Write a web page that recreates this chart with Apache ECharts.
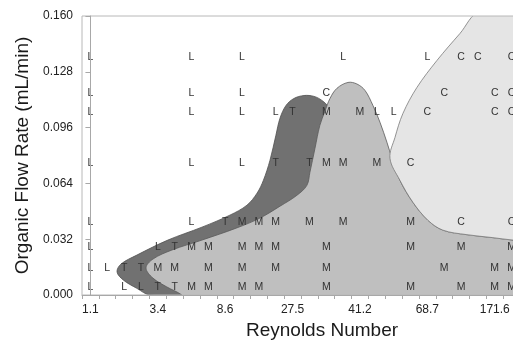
<!DOCTYPE html>
<html>
<head>
<meta charset="utf-8">
<script src="https://cdn.jsdelivr.net/npm/echarts@6/dist/echarts.min.js"></script>
<style>
  html, body { margin: 0; padding: 0; background: #fff; }
  #chart { width: 513px; height: 341px; }
</style>
</head>
<body>
<div id="chart"></div>
<script>
// Reynolds number columns (only every 4th one is labelled on the axis)
const columnCount = 26;
const xTickLabels = ["1.1", "3.4", "8.6", "27.5", "41.2", "68.7", "171.6"];

// observed regimes: [column, organic flow rate (mL/min)]
const laminar = [
  [0, 0.1365], [6, 0.1365], [9, 0.1365], [15, 0.1365], [20, 0.1365],
  [0, 0.1158], [6, 0.1158], [9, 0.1158],
  [0, 0.1047], [6, 0.1047], [9, 0.1047], [11, 0.1047], [17, 0.1047], [18, 0.1047],
  [0, 0.0757], [6, 0.0757], [9, 0.0757],
  [0, 0.0419], [6, 0.0419],
  [0, 0.0276], [4, 0.0276],
  [0, 0.0156], [1, 0.0156],
  [0, 0.0044], [2, 0.0044], [3, 0.0044]
];
const transition = [
  [12, 0.1047], [11, 0.0757], [13, 0.0757], [8, 0.0419], [5, 0.0276],
  [2, 0.0156], [3, 0.0156], [4, 0.0044], [5, 0.0044]
];
const mixing = [
  [14, 0.1047], [16, 0.1047],
  [14, 0.0757], [15, 0.0757], [17, 0.0757],
  [9, 0.0419], [10, 0.0419], [11, 0.0419], [13, 0.0419], [15, 0.0419], [19, 0.0419],
  [6, 0.0276], [7, 0.0276], [9, 0.0276], [10, 0.0276], [11, 0.0276], [14, 0.0276], [19, 0.0276], [22, 0.0276], [25, 0.0276],
  [4, 0.0156], [5, 0.0156], [7, 0.0156], [9, 0.0156], [11, 0.0156], [14, 0.0156], [21, 0.0156], [24, 0.0156], [25, 0.0156],
  [6, 0.0044], [7, 0.0044], [9, 0.0044], [10, 0.0044], [14, 0.0044], [19, 0.0044], [22, 0.0044], [24, 0.0044], [25, 0.0044]
];
const chaotic = [
  [22, 0.1365], [23, 0.1365], [25, 0.1365],
  [14, 0.1158], [21, 0.1158], [24, 0.1158], [25, 0.1158],
  [20, 0.1047], [24, 0.1047], [25, 0.1047],
  [19, 0.0757], [22, 0.0419], [25, 0.0419]
];

// regime boundaries: [column, flow rate]
const transitionZone = [
  [3.54, 0], [2.76, 0.0038], [1.95, 0.0086], [1.58, 0.0132], [1.81, 0.0177], [2.76, 0.0229],
  [4.60, 0.0315], [6.62, 0.0389], [8.28, 0.0458], [9.29, 0.0515], [9.89, 0.0584], [10.27, 0.0658],
  [10.66, 0.0773], [11.01, 0.0916], [11.25, 0.1013], [11.61, 0.1087], [12.08, 0.1127], [12.68, 0.1144],
  [13.27, 0.1139], [13.74, 0.1116], [14.10, 0.1082], [14.51, 0.1001], [14.22, 0.0544], [12.44, 0.0315],
  [6.50, 0]
];
const mixingZone = [
  [5.43, 0], [4.54, 0.0046], [3.71, 0.0097], [3.30, 0.0155], [3.71, 0.0206], [4.84, 0.0258],
  [6.62, 0.0315], [8.64, 0.0383], [10.06, 0.0441], [11.25, 0.0509], [12.26, 0.0572], [12.85, 0.0629],
  [13.03, 0.0704], [13.33, 0.0841], [13.62, 0.0973], [13.92, 0.1053], [14.22, 0.1127], [14.63, 0.1185],
  [15.29, 0.1219], [15.82, 0.1210], [16.30, 0.1173], [16.77, 0.1087], [17.19, 0.0990], [17.60, 0.0876],
  [17.90, 0.0784], [18.37, 0.0658], [19.14, 0.0532], [20.03, 0.0429], [20.92, 0.0372], [22.35, 0.0346],
  [23.89, 0.0329], [25.08, 0.0315], [26.3, 0.0309], [26.3, -0.003], [5.6, -0.003]
];
const chaoticZone = [
  [23.1, 0.1625], [21.93, 0.1499], [20.57, 0.1345], [19.38, 0.1190], [18.55, 0.1041], [18.08, 0.0904],
  [17.78, 0.0784], [18.37, 0.0658], [19.14, 0.0532], [20.03, 0.0429], [20.92, 0.0372], [22.35, 0.0346],
  [23.89, 0.0329], [25.08, 0.0315], [26.3, 0.0309], [26.3, 0.1625]
];

const FONT = '"Liberation Sans", Arial, sans-serif';
const columns = Array.from({ length: columnCount }, (_, i) => String(i));

function zoneSeries(name, pts, fill, stroke, z) {
  return {
    type: "custom",
    name: name,
    xAxisIndex: 1,
    yAxisIndex: 0,
    data: [[0, 0]],
    clip: true,
    silent: true,
    z: z,
    renderItem: (params, api) => ({
      type: "polygon",
      shape: { points: pts.map(p => api.coord(p)), smooth: 0.35 },
      style: { fill: fill, stroke: stroke, lineWidth: 0.8 }
    })
  };
}

function letterSeries(letter, pts) {
  return {
    type: "custom",
    name: letter,
    xAxisIndex: 1,
    yAxisIndex: 0,
    data: pts,
    silent: true,
    z: 4,
    renderItem: (params, api) => {
      const p = api.coord([api.value(0), api.value(1)]);
      return {
        type: "text",
        x: p[0],
        y: p[1],
        style: {
          text: letter,
          fill: "#333",
          font: "10.5px " + FONT,
          align: "center",
          verticalAlign: "middle",
          textAlign: "center",
          textVerticalAlign: "middle"
        }
      };
    }
  };
}

const chart = echarts.init(document.getElementById("chart"), null, { renderer: "canvas" });

chart.setOption({
  animation: false,
  backgroundColor: "#fff",
  grid: {
    left: 82, top: 16, right: -7, bottom: 46,
    show: true, borderColor: "#b8b8b8", borderWidth: 1,
    containLabel: false, outerBoundsMode: "none", z: 5
  },
  xAxis: [
    {
      type: "category",
      data: columns,
      boundaryGap: true,
      z: 5,
      name: "Reynolds Number",
      nameLocation: "middle",
      nameGap: 24,
      nameTextStyle: { fontFamily: FONT, fontSize: 19, color: "#1a1a1a", padding: [0, 0, 0, 42] },
      axisLine: { lineStyle: { color: "#a8a8a8", width: 1 } },
      axisTick: { show: true, interval: 0, length: 4, lineStyle: { color: "#a8a8a8" } },
      axisLabel: {
        interval: 3,
        margin: 9,
        fontFamily: FONT,
        fontSize: 12,
        color: "#222",
        formatter: (v, i) => xTickLabels[i / 4] || ""
      },
      splitLine: { show: false }
    },
    {
      type: "value",
      min: -0.5,
      max: columnCount - 0.5,
      show: false,
      splitLine: { show: false }
    }
  ],
  yAxis: {
    type: "value",
    min: 0,
    max: 0.16,
    interval: 0.032,
    z: 5,
    name: "Organic Flow Rate (mL/min)",
    nameLocation: "middle",
    nameGap: 46,
    nameTextStyle: { fontFamily: FONT, fontSize: 19, color: "#1a1a1a" },
    axisLine: { show: true, lineStyle: { color: "#a8a8a8", width: 1 } },
    axisTick: { show: true, length: 5, lineStyle: { color: "#a8a8a8" } },
    axisLabel: {
      margin: 9,
      fontFamily: FONT,
      fontSize: 12,
      color: "#222",
      formatter: v => v.toFixed(3)
    },
    splitLine: { show: false }
  },
  series: [
    zoneSeries("transition zone", transitionZone, "#717171", "#505050", 1),
    zoneSeries("mixing zone", mixingZone, "#bfbfbf", "#5a5a5a", 2),
    zoneSeries("chaotic zone", chaoticZone, "#e5e5e5", "#7a7a7a", 3),
    letterSeries("L", laminar),
    letterSeries("T", transition),
    letterSeries("M", mixing),
    letterSeries("C", chaotic)
  ]
});
</script>
</body>
</html>
